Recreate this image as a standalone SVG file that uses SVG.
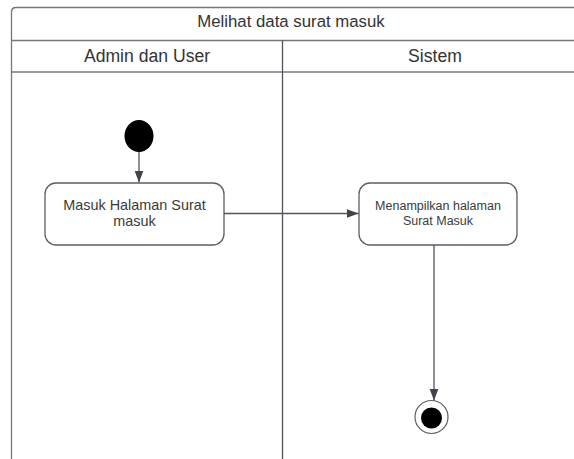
<svg xmlns="http://www.w3.org/2000/svg" width="574" height="459" viewBox="0 0 574 459">
<style>
.frame{fill:none;stroke:#74777e;stroke-width:1.3}
.lane{fill:none;stroke:#50545c;stroke-width:1.3}
.hdr{font-family:"Liberation Sans",Arial,sans-serif;fill:#333333;text-anchor:middle}
.act{fill:#ffffff;stroke:#5a5e66;stroke-width:1.3}
.t{font-family:"Liberation Sans",Arial,sans-serif;fill:#3a3a3a;text-anchor:middle}
.edge{fill:none;stroke:#50545c;stroke-width:1.3}
</style>
<defs>
<marker id="arr" viewBox="0 0 12 10" refX="12" refY="5" markerWidth="12" markerHeight="10" markerUnits="userSpaceOnUse" orient="auto">
<path d="M0,0.5 L12,5 L0,9.5 Z" fill="#3f434a"/>
</marker>
</defs>
<rect width="574" height="459" fill="#ffffff"/>
<g id="swimlane">
<path class="frame" d="M11.5,459 V12 Q11.5,7.5 16,7.5 H574"/>
<line class="frame" x1="11.5" y1="40.5" x2="574" y2="40.5"/>
<line class="frame" x1="11.5" y1="72" x2="574" y2="72"/>
<line class="lane" x1="282.5" y1="40.5" x2="282.5" y2="459"/>
<text class="hdr" x="291" y="26.5" font-size="16.8">Melihat data surat masuk</text>
<text class="hdr" x="147" y="62" font-size="17.6">Admin dan User</text>
<text class="hdr" x="435" y="62" font-size="17.6">Sistem</text>
</g>
<g id="start">
<ellipse cx="139" cy="136" rx="14.5" ry="16" fill="#000000"/>
</g>
<g id="masuk-halaman">
<rect class="act" x="45" y="183" width="179" height="62" rx="11"/>
<text class="t" x="134.5" y="210" font-size="14.4">Masuk Halaman Surat</text>
<text class="t" x="134.5" y="226" font-size="14.4">masuk</text>
</g>
<g id="menampilkan">
<rect class="act" x="359" y="183" width="158" height="62" rx="11"/>
<text class="t" x="438" y="209.5" font-size="12.5">Menampilkan halaman</text>
<text class="t" x="438" y="224.5" font-size="12.5">Surat Masuk</text>
</g>
<g id="end">
<circle cx="431.5" cy="417" r="16.5" fill="#ffffff" stroke="#5a5e66" stroke-width="1.2"/>
<circle cx="431.5" cy="418" r="10.5" fill="#000000"/>
</g>
<g id="connectors">
<line class="edge" x1="139" y1="152" x2="139" y2="182.5" marker-end="url(#arr)"/>
<line class="edge" x1="224" y1="213.5" x2="358.5" y2="213.5" marker-end="url(#arr)"/>
<line class="edge" x1="434" y1="245" x2="434" y2="400.5" marker-end="url(#arr)"/>
</g>
</svg>
